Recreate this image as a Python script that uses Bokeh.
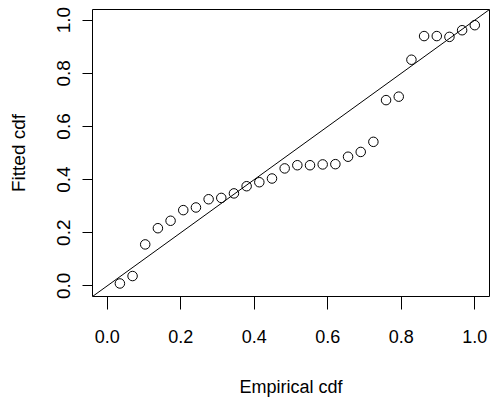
from bokeh.plotting import figure
from bokeh.models import Range1d, FixedTicker, Slope
from bokeh.embed import file_html
from bokeh.resources import INLINE

# Data
empirical_cdf = [0.0345, 0.0690, 0.1034, 0.1379, 0.1724, 0.2069, 0.2414, 0.2759,
                 0.3103, 0.3448, 0.3793, 0.4138, 0.4483, 0.4828, 0.5172, 0.5517,
                 0.5862, 0.6207, 0.6552, 0.6897, 0.7241, 0.7586, 0.7931, 0.8276,
                 0.8621, 0.8966, 0.9310, 0.9655, 1.0000]
fitted_cdf = [0.009, 0.037, 0.156, 0.217, 0.245, 0.285, 0.295, 0.326,
              0.331, 0.348, 0.375, 0.390, 0.404, 0.442, 0.454, 0.454,
              0.457, 0.458, 0.486, 0.504, 0.542, 0.699, 0.712, 0.851,
              0.940, 0.940, 0.937, 0.962, 0.981]
tick_values = [0.0, 0.2, 0.4, 0.6, 0.8, 1.0]
tick_labels = ["0.0", "0.2", "0.4", "0.6", "0.8", "1.0"]
x_title = "Empirical cdf"
y_title = "Fitted cdf"

FONT = "Liberation Sans"

p = figure(width=492, height=409, output_backend="svg", toolbar_location=None,
           x_range=Range1d(-0.04, 1.04), y_range=Range1d(-0.04, 1.04),
           x_axis_label=x_title, y_axis_label=y_title)
p.frame_width = 397
p.frame_height = 287
p.min_border_left = 92
p.min_border_top = 9
p.min_border_right = 3
p.min_border_bottom = 10

p.background_fill_color = "white"
p.border_fill_color = "white"
p.outline_line_color = "black"
p.outline_line_width = 1
p.outline_line_alpha = 1.0
p.xgrid.visible = False
p.ygrid.visible = False

overrides = {v: l for v, l in zip(tick_values, tick_labels)}
for ax in (p.xaxis[0], p.yaxis[0]):
    ax.ticker = FixedTicker(ticks=tick_values)
    ax.major_label_overrides = overrides
    ax.axis_line_color = None
    ax.major_tick_in = 0
    ax.major_tick_line_color = "black"
    ax.major_tick_line_width = 1
    ax.minor_tick_line_color = None
    ax.major_label_text_font = FONT
    ax.major_label_text_color = "black"
    ax.axis_label_text_font = FONT
    ax.axis_label_text_font_style = "normal"
    ax.axis_label_text_color = "black"

p.xaxis[0].major_tick_out = 13
p.xaxis[0].major_label_text_font_size = "18px"
p.xaxis[0].major_label_standoff = 20
p.xaxis[0].axis_label_text_font_size = "18px"
p.xaxis[0].axis_label_standoff = 31

p.yaxis[0].major_tick_out = 10
p.yaxis[0].major_label_orientation = "vertical"
p.yaxis[0].major_label_text_font_size = "19px"
p.yaxis[0].major_label_standoff = 12
p.yaxis[0].axis_label_text_font_size = "19px"
p.yaxis[0].axis_label_standoff = 26

p.add_layout(Slope(gradient=1, y_intercept=0, line_color="black", line_width=1))
p.scatter(empirical_cdf, fitted_cdf, marker="circle", size=9.5,
          fill_color=None, line_color="black", line_width=1)

open("out.html", "w").write(file_html(p, INLINE))
